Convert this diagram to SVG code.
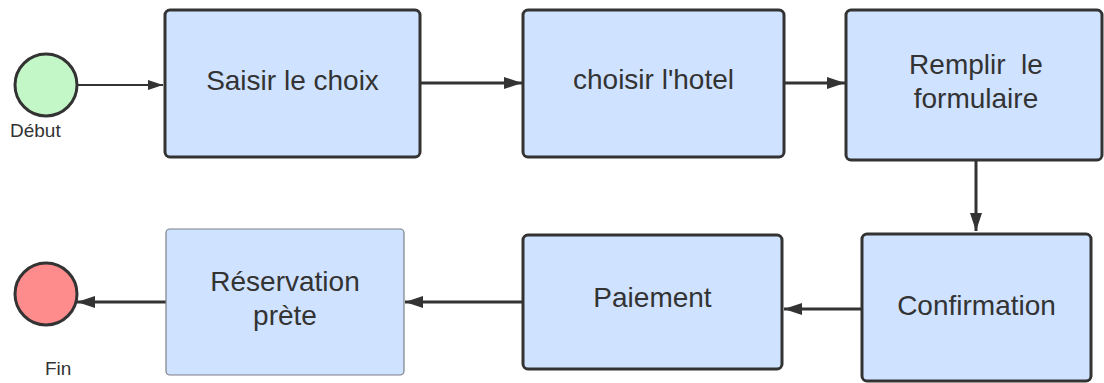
<svg xmlns="http://www.w3.org/2000/svg" width="1104" height="383" viewBox="0 0 1104 383">
  <style>
    .box { fill: #cfe2ff; stroke: #333333; stroke-width: 3; }
    .box-thin { fill: #cfe2ff; stroke: #7a7f87; stroke-width: 1.2; }
    .lbl { font-family: "Liberation Sans", Arial, sans-serif; font-size: 28px; fill: #333333; text-anchor: middle; }
    .small { font-family: "Liberation Sans", Arial, sans-serif; font-size: 19px; fill: #333333; }
    .edge { fill: none; stroke: #333333; stroke-width: 3; }
    .edge-thin { fill: none; stroke: #333333; stroke-width: 2; }
  </style>
  <defs>
    <marker id="head" markerUnits="userSpaceOnUse" markerWidth="18" markerHeight="12" refX="18" refY="6" orient="auto">
      <path d="M0,0 L18,6 L0,12 Z" fill="#333333"/>
    </marker>
    <marker id="head-sm" markerUnits="userSpaceOnUse" markerWidth="15" markerHeight="10" refX="15" refY="5" orient="auto">
      <path d="M0,0 L15,5 L0,10 Z" fill="#333333"/>
    </marker>
  </defs>

  <!-- connectors -->
  <g id="connectors">
    <path class="edge-thin" d="M77,85 L163,85" marker-end="url(#head-sm)"/>
    <path class="edge" d="M420,83 L522,83" marker-end="url(#head)"/>
    <path class="edge" d="M784,83 L845,83" marker-end="url(#head)"/>
    <path class="edge" d="M976,160 L976,231" marker-end="url(#head)"/>
    <path class="edge" d="M862,309 L784,309" marker-end="url(#head)"/>
    <path class="edge" d="M523,302 L405,302" marker-end="url(#head)"/>
    <path class="edge" d="M166,302 L77,302" marker-end="url(#head)"/>
  </g>

  <!-- start event -->
  <g id="debut">
    <circle cx="46" cy="85" r="31" fill="#c3f7c8" stroke="#333333" stroke-width="3"/>
    <text class="small" x="10" y="137">Début</text>
  </g>

  <g id="saisir">
    <rect class="box" x="165" y="10" width="255" height="147" rx="5"/>
    <text class="lbl" x="292.5" y="90">Saisir le choix</text>
  </g>

  <g id="choisir">
    <rect class="box" x="523" y="10" width="261" height="147" rx="5"/>
    <text class="lbl" x="653.5" y="89">choisir l'hotel</text>
  </g>

  <g id="remplir">
    <rect class="box" x="846" y="10" width="256" height="150" rx="5"/>
    <text class="lbl" x="976" y="74" xml:space="preserve">Remplir  le</text>
    <text class="lbl" x="976" y="108">formulaire</text>
  </g>

  <g id="confirmation">
    <rect class="box" x="862" y="234" width="229" height="147" rx="5"/>
    <text class="lbl" x="976.5" y="315">Confirmation</text>
  </g>

  <g id="paiement">
    <rect class="box" x="523" y="235" width="259" height="134" rx="5"/>
    <text class="lbl" x="652.5" y="307">Paiement</text>
  </g>

  <g id="reservation">
    <rect class="box-thin" x="166" y="229" width="238" height="146" rx="4"/>
    <text class="lbl" x="285" y="291">Réservation</text>
    <text class="lbl" x="285" y="325">prète</text>
  </g>

  <!-- end event -->
  <g id="fin">
    <circle cx="46" cy="294" r="31" fill="#ff8c8c" stroke="#333333" stroke-width="3"/>
    <text class="small" x="45" y="375">Fin</text>
  </g>
</svg>
